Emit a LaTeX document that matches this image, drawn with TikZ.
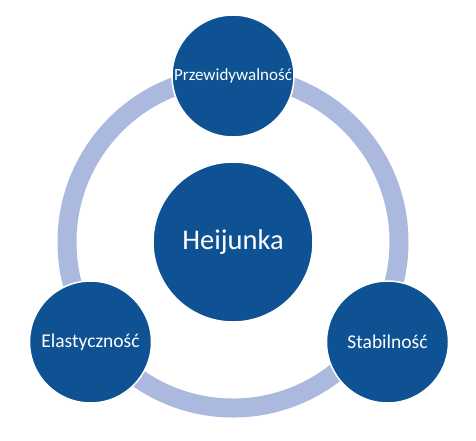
\documentclass[tikz,border=0pt]{standalone}
\usepackage{fontspec}
\setmainfont{Carlito}
\usepackage{tikz}
\usetikzlibrary{positioning}
\definecolor{bubbleblue}{HTML}{0F5294}
\definecolor{ringblue}{HTML}{ABB9DE}
\tikzset{bubble/.style = {circle, fill=bubbleblue, draw=white, line width=1.5pt,
                          inner sep=0, text=white, font=\fontsize{19.5}{23}\selectfont,
                          minimum size=122pt}}
\tikzset{hubbubble/.style = {bubble, minimum size=160pt, font=\fontsize{28.5}{34}\selectfont}}
\tikzset{ring/.style = {draw=ringblue, line width=19pt}}

\begin{document}
\begin{tikzpicture}[x=1pt, y=-1pt]
      \useasboundingbox (0, 0) rectangle (476, 440);
      \coordinate (hub) at (233, 242);
      \draw [ring] (hub) circle (166);
      \node [hubbubble] (heijunka) at (hub) {Heijunka};
      \node [bubble, font=\fontsize{17}{20}\selectfont] (przew) at (233, 76) {Przewidywalność};
      \node [bubble] (elast) at (90.5, 342) {Elastyczność};
      \node [bubble] (stab) at (387.5, 342) {Stabilność};
    \end{tikzpicture}
\end{document}
